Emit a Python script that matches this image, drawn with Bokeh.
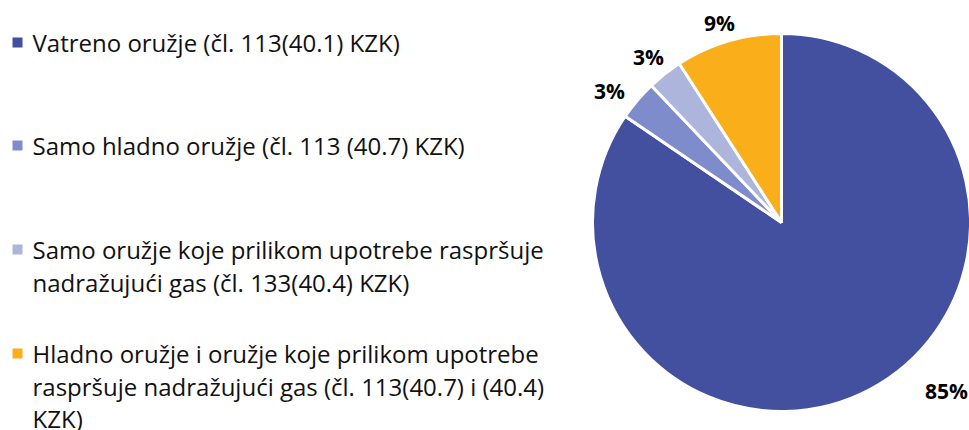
import math
from bokeh.plotting import figure
from bokeh.models import Range1d, ColumnDataSource
from bokeh.core.properties import value
from bokeh.embed import file_html
from bokeh.resources import INLINE

categories = [
    "Vatreno oružje (čl. 113(40.1) KZK)",
    "Samo hladno oružje (čl. 113 (40.7) KZK)",
    "Samo  oružje koje prilikom upotrebe raspršuje\nnadražujući gas (čl. 133(40.4) KZK)",
    "Hladno oružje i oružje koje prilikom upotrebe\nraspršuje nadražujući gas (čl. 113(40.7) i (40.4)\nKZK)",
]
values = [84.5, 3.4, 3.0, 9.1]
pct_labels = ["85%", "3%", "3%", "9%"]
colors = ["#43509F", "#7F8CCB", "#ADB5DD", "#F9AE1A"]

W, H = 969, 430
p = figure(width=W, height=H, output_backend="svg", toolbar_location=None,
           x_range=Range1d(0, W), y_range=Range1d(0, H),
           min_border=0, outline_line_color=None)
p.axis.visible = False
p.grid.visible = False
p.background_fill_color = "white"
p.border_fill_color = "white"

cx, cy, r = 781, 430 - 222, 189
total = sum(values)
starts, ends = [], []
a = math.pi / 2
for v in values:
    starts.append(a)
    a -= v / total * 2 * math.pi
    ends.append(a)

src = ColumnDataSource(dict(start=starts, end=ends, color=colors))
p.wedge(x=cx, y=cy, radius=r, start_angle="start", end_angle="end",
        direction="clock", fill_color="color", line_color="white",
        line_width=3, source=src)

# percentage label positions (pixels from top-left), outside the slices
label_px = [(946, 390), (609, 90), (648, 56), (719, 22)]
p.text(x=[q[0] for q in label_px], y=[430 - q[1] for q in label_px],
       text=pct_labels, text_font=value("Open Sans"),
       text_font_style="bold", text_font_size="21px", text_color="#000000",
       text_align="center", text_baseline="middle")

# legend
first_y = [42, 145, 249, 353]
line_h = 32.5
for cat, col, y0 in zip(categories, colors, first_y):
    p.scatter(x=[17], y=[430 - y0], marker="square", size=10,
              fill_color=col, line_color=None)
    lines = cat.split("\n")
    p.text(x=[32] * len(lines), y=[430 - (y0 + i * line_h) for i in range(len(lines))],
           text=lines, text_font=value("Open Sans"), text_font_size="24px",
           text_color="#111111", text_align="left", text_baseline="middle")

open("out.html", "w").write(file_html(p, INLINE))
